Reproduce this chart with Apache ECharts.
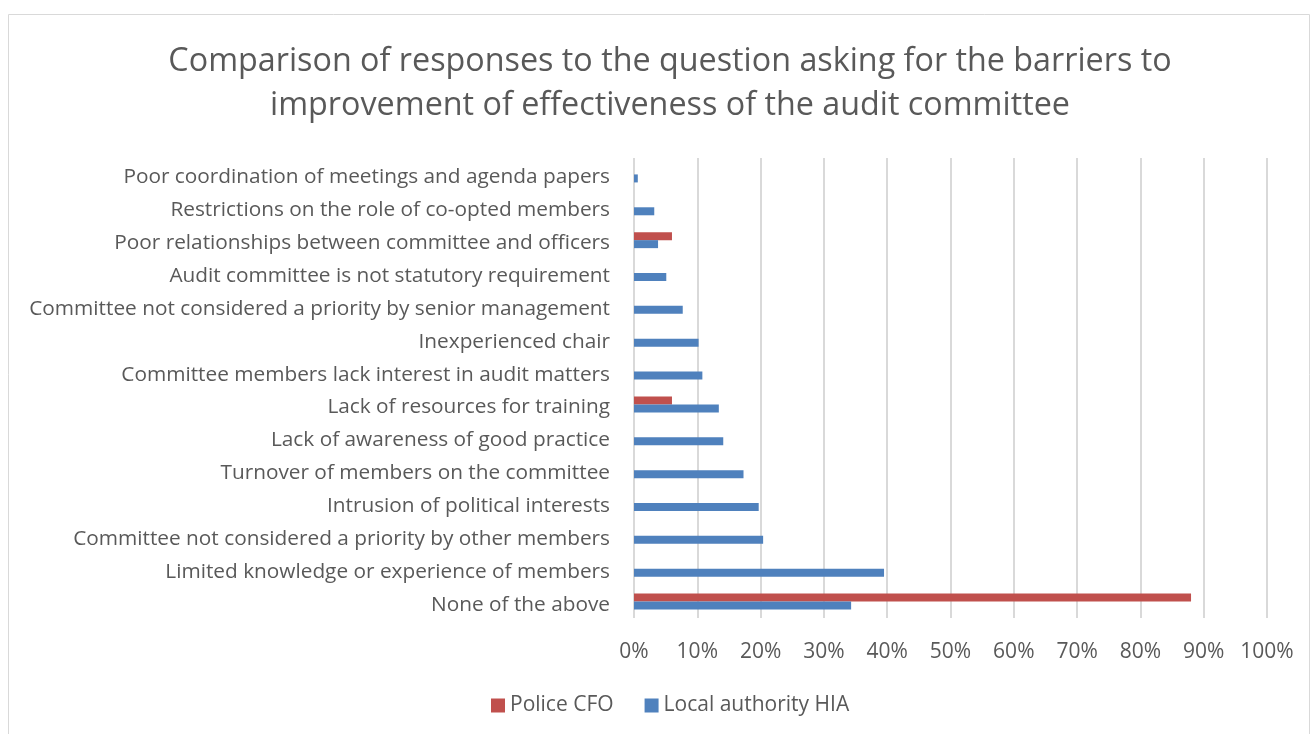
<!DOCTYPE html>
<html><head><meta charset="utf-8">
<script src="https://cdn.jsdelivr.net/npm/echarts@6/dist/echarts.min.js"></script>
<style>html,body{margin:0;padding:0;background:#fff}#c{width:1312px;height:734px}</style>
</head><body><div id="c"></div>
<script>
const categories = [
  "None of the above",
  "Limited knowledge or experience of members",
  "Committee not considered a priority by other members",
  "Intrusion of political interests",
  "Turnover of members on the committee",
  "Lack of awareness of good practice",
  "Lack of resources for training",
  "Committee members lack interest in audit matters",
  "Inexperienced chair",
  "Committee not considered a priority by senior management",
  "Audit committee is not statutory requirement",
  "Poor relationships between committee and officers",
  "Restrictions on the role of co-opted members",
  "Poor coordination of meetings and agenda papers"
];
const policeCFO = [88.0, 0, 0, 0, 0, 0, 6.0, 0, 0, 0, 0, 6.0, 0, 0];
const localAuthorityHIA = [34.3, 39.5, 20.4, 19.7, 17.3, 14.1, 13.4, 10.8, 10.2, 7.7, 5.1, 3.8, 3.2, 0.6];
const xTicks = [0, 10, 20, 30, 40, 50, 60, 70, 80, 90, 100];

const FONT = "Open Sans";
const chart = echarts.init(document.getElementById('c'));
chart.setOption({
  animation: false,
  textStyle: { fontFamily: FONT },
  title: {
    text: "Comparison of responses to the question asking for the barriers to\nimprovement of effectiveness of the audit committee",
    left: 665, top: 35, textAlign: 'center',
    textStyle: { fontFamily: FONT, fontSize: 32.3, fontWeight: 'normal', color: '#595959', lineHeight: 44 }
  },
  graphic: [{
    type: 'rect', shape: { x: 8.5, y: 14.5, width: 1301, height: 740 },
    style: { fill: 'none', stroke: '#D9D9D9', lineWidth: 1 }, silent: true
  }],
  legend: {
    bottom: 13, left: 486, itemWidth: 14, itemHeight: 14, itemGap: 31,
    icon: 'rect',
    textStyle: { fontFamily: FONT, fontSize: 21, color: '#595959' },
    data: ['Police CFO', 'Local authority HIA']
  },
  grid: { left: 634, right: 45, top: 158, bottom: 116, containLabel: false },
  xAxis: {
    type: 'value', min: 0, max: 100, interval: 10,
    axisLabel: { formatter: v => xTicks.includes(v) ? v + '%' : '', fontSize: 21, color: '#595959', margin: 24, fontFamily: FONT },
    axisLine: { show: false }, axisTick: { show: false },
    splitLine: { lineStyle: { color: '#D9D9D9', width: 2 } }
  },
  yAxis: {
    type: 'category', data: categories,
    axisLabel: {
      color: '#595959', margin: 24, fontFamily: FONT,
      formatter: v => '{a|' + v + '}',
      rich: { a: { fontSize: 20.8, color: '#595959', fontFamily: FONT, padding: [6, 0, 0, 0] } }
    },
    axisLine: { show: false }, axisTick: { show: false }
  },
  series: [
    { name: 'Police CFO', type: 'bar', data: policeCFO, barWidth: 8, barGap: '0%',
      itemStyle: { color: '#C0504D' } },
    { name: 'Local authority HIA', type: 'bar', data: localAuthorityHIA, barWidth: 8, barGap: '0%',
      itemStyle: { color: '#4F81BD' } }
  ]
});
</script></body></html>
